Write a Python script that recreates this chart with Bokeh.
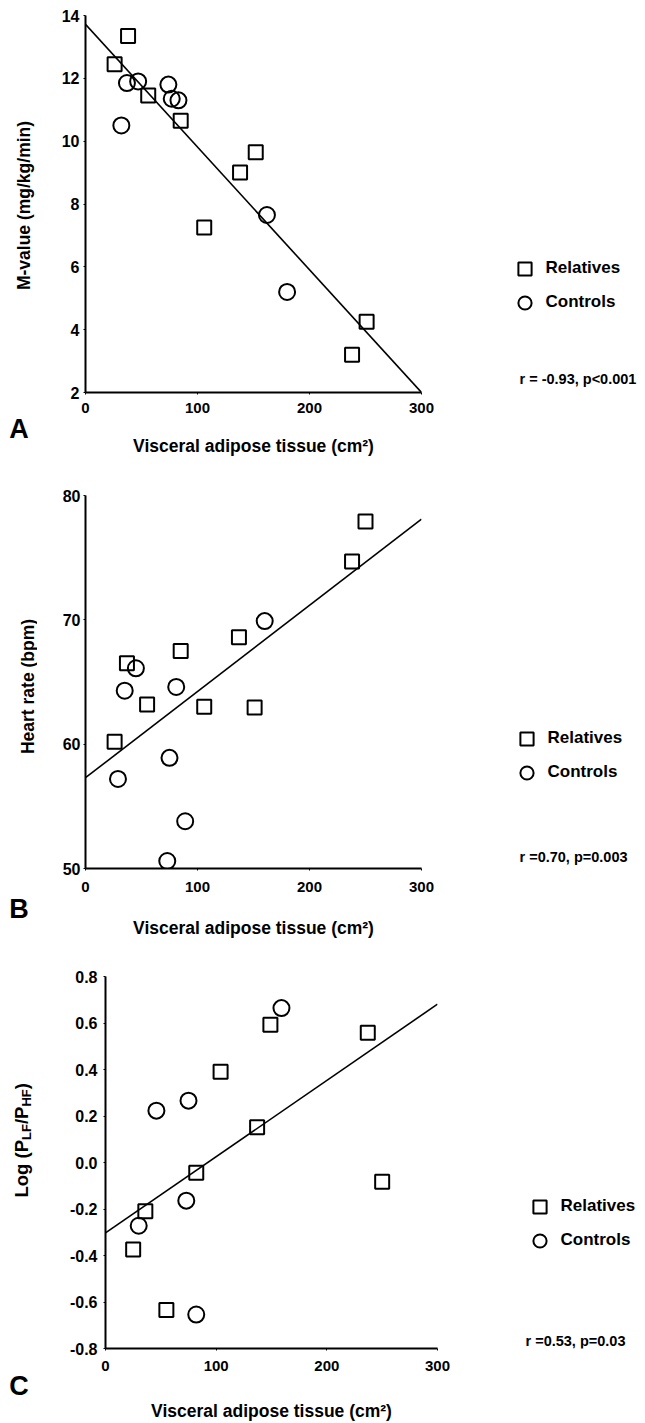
import math
from bokeh.plotting import figure
from bokeh.models import FixedTicker, NumeralTickFormatter, Label, Legend, LegendItem
from bokeh.layouts import column, row
from bokeh.embed import file_html
from bokeh.resources import INLINE

FONT = "Liberation Sans"

# ---------------- data ----------------
x_ticks = [0, 100, 200, 300]
series_names = ["Relatives", "Controls"]

# Panel A: M-value vs visceral adipose tissue
A_rel_x = [26, 38, 56, 85, 106, 138, 152, 238, 251]
A_rel_y = [12.45, 13.35, 11.45, 10.65, 7.25, 9.0, 9.65, 3.2, 4.25]
A_con_x = [32, 37, 47, 74, 77, 83, 162, 180]
A_con_y = [10.5, 11.85, 11.9, 11.8, 11.35, 11.3, 7.65, 5.2]
A_fit_x = [0, 300]
A_fit_y = [13.72, 2.0]
A_yticks = [2, 4, 6, 8, 10, 12, 14]
A_stat = "r = -0.93, p<0.001"

# Panel B: heart rate vs visceral adipose tissue
B_rel_x = [26, 37, 55, 85, 106, 137, 151, 238, 250]
B_rel_y = [60.2, 66.5, 63.2, 67.5, 63.0, 68.6, 62.95, 74.7, 77.9]
B_con_x = [29, 35, 45, 73, 75, 81, 89, 160]
B_con_y = [57.2, 64.3, 66.1, 50.6, 58.9, 64.6, 53.8, 69.9]
B_fit_x = [0, 300]
B_fit_y = [57.3, 78.1]
B_yticks = [50, 60, 70, 80]
B_stat = "r =0.70, p=0.003"

# Panel C: log(PLF/PHF) vs visceral adipose tissue
C_rel_x = [25, 36, 55, 82, 104, 137, 149, 237, 250]
C_rel_y = [-0.374, -0.21, -0.634, -0.044, 0.39, 0.152, 0.593, 0.558, -0.083]
C_con_x = [30, 46, 73, 75, 82, 159]
C_con_y = [-0.272, 0.223, -0.164, 0.266, -0.654, 0.664]
C_fit_x = [0, 300]
C_fit_y = [-0.303, 0.681]
C_yticks = [-0.8, -0.6, -0.4, -0.2, 0.0, 0.2, 0.4, 0.6, 0.8]
C_stat = "r =0.53, p=0.03"

X_LABEL = "Visceral adipose tissue (cm\u00b2)"
A_YLABEL = "M-value (mg/kg/min)"
B_YLABEL = "Heart rate (bpm)"
C_YLABEL_PARTS = ["Log (P", "LF", "/P", "HF", ")"]   # P_LF / P_HF with subscripts
NAN = float("nan")

STRIP_W = 37


def blank(width, height, letter=None, letter_std=0):
    p = figure(width=width, height=height, x_range=(0, 1), y_range=(0, 1),
               y_axis_type=None, output_backend="svg",
               toolbar_location=None, min_border=0)
    p.outline_line_color = None
    p.background_fill_color = "white"
    p.grid.visible = False
    ax = p.xaxis[0]
    ax.ticker = FixedTicker(ticks=[])
    ax.axis_line_color = None
    ax.major_tick_out = 0
    ax.major_tick_in = 0
    ax.minor_tick_out = 0
    ax.minor_tick_in = 0
    ax.major_label_text_color = None
    if letter is not None:
        ax.axis_label = letter
        ax.axis_label_text_font = FONT
        ax.axis_label_text_font_style = "bold"
        ax.axis_label_text_font_size = "27px"
        ax.axis_label_text_color = "black"
        ax.axis_label_standoff = letter_std
    return p


def txt(p, x, y, text, size, align="left", baseline="middle", angle=0.0):
    p.add_layout(Label(x=x, y=y, x_units="screen", y_units="screen", text=text,
                       text_font=FONT, text_font_style="bold",
                       text_font_size=f"{size}px", text_align=align,
                       text_baseline=baseline, angle=angle, text_color="black"))


def main_panel(width, h, mb, yr, yticks, rel, con, fit, geo):
    p = figure(width=width, height=h, x_range=(0, 300), y_range=yr,
               output_backend="svg", toolbar_location=None,
               min_border_left=mb[0], min_border_right=mb[1],
               min_border_top=mb[2], min_border_bottom=mb[3])
    p.outline_line_color = None
    p.grid.visible = False
    p.background_fill_color = "white"
    for ax in (p.xaxis[0], p.yaxis[0]):
        ax.axis_line_width = 2
        ax.axis_line_color = "black"
        ax.major_tick_out = 2
        ax.major_tick_in = 0
        ax.major_tick_line_width = 1
        ax.minor_tick_out = 0
        ax.minor_tick_in = 0
        ax.major_label_text_font = FONT
        ax.major_label_text_font_style = "bold"
        ax.major_label_text_color = "black"
        ax.axis_label_text_font = FONT
        ax.axis_label_text_font_style = "bold"
        ax.axis_label_text_font_size = "17.5px"
        ax.axis_label_text_color = "black"
    p.xaxis.major_label_text_font_size = "15px"
    p.yaxis.major_label_text_font_size = "16px"
    p.xaxis.ticker = FixedTicker(ticks=x_ticks)
    p.xaxis.axis_label = X_LABEL
    p.xaxis.major_label_standoff = geo["x_std"]
    p.xaxis.axis_label_standoff = geo["x_lab_std"]
    p.yaxis.ticker = FixedTicker(ticks=yticks)
    p.yaxis.major_label_standoff = geo["y_std"]
    if geo.get("fmt"):
        p.yaxis.formatter = NumeralTickFormatter(format=geo["fmt"])
    p.scatter(rel[0], rel[1], marker="square", size=14,
              fill_color=None, line_color="black", line_width=2)
    p.scatter(con[0], con[1], marker="circle", size=16,
              fill_color=None, line_color="black", line_width=2)
    p.line(fit[0], fit[1], line_color="black", line_width=1.6)
    return p


def side_panel(width, h, leg_loc, stat, stat_pos):
    p = blank(width, h)
    r_rel = p.scatter(x=[NAN], y=[NAN], marker="square", size=14,
                      fill_color=None, line_color="black", line_width=2)
    r_con = p.scatter(x=[NAN], y=[NAN], marker="circle", size=16,
                      fill_color=None, line_color="black", line_width=2)
    legend = Legend(items=[LegendItem(label=series_names[0], renderers=[r_rel]),
                           LegendItem(label=series_names[1], renderers=[r_con])],
                    location=leg_loc, glyph_width=33, glyph_height=33,
                    label_height=33, label_standoff=5, spacing=1, padding=0,
                    margin=0, border_line_color=None, background_fill_alpha=0,
                    label_text_font=FONT, label_text_font_style="bold",
                    label_text_font_size="17px", label_text_color="black")
    p.add_layout(legend)
    txt(p, stat_pos[0], stat_pos[1], stat, 14.5)
    return p


# Frames of the figures in one row share top/bottom; screen y below is
# measured from the frame bottom (= the x axis of the panel).

# ---------------- panel A (page y 0..462, x axis at 392) ----------------
hA, axA = 462, 392
sA = blank(STRIP_W, hA, "A", 21)
txt(sA, 23, axA - 205, A_YLABEL, 17.5, align="center", baseline="middle",
    angle=math.pi / 2)
mA = main_panel(441 - STRIP_W, hA, (85 - STRIP_W, 20, 15, hA - axA), (2, 14),
                A_yticks, (A_rel_x, A_rel_y), (A_con_x, A_con_y),
                (A_fit_x, A_fit_y), dict(x_std=8, x_lab_std=20, y_std=4))
rA = side_panel(645 - 441, hA, (66.5, axA - 318.5), A_stat, (78, axA - 378))

# ---------------- panel B (page y 462..945, x axis at 868) ----------------
hB, axB = 483, 868
sB = blank(STRIP_W, hB, "B", 25)
txt(sB, 27, axB - 686, B_YLABEL, 17.5, align="center", baseline="middle",
    angle=math.pi / 2)
mB = main_panel(441 - STRIP_W, hB, (85 - STRIP_W, 20, 33, 945 - axB), (50, 80),
                B_yticks, (B_rel_x, B_rel_y), (B_con_x, B_con_y),
                (B_fit_x, B_fit_y), dict(x_std=11, x_lab_std=23, y_std=3))
rB = side_panel(645 - 441, hB, (68.5, axB - 788.5), B_stat, (78, axB - 856))

# ---------------- panel C (page y 945..1423, x axis at 1351) ----------------
hC, axC = 478, 1351
sC = blank(STRIP_W, hC, "C", 22)
M, S = 18.5, 13
ems = [3.111, 1.222, 0.945, 1.333, 0.333]
ypos = axC - 1200
for part, em in zip(C_YLABEL_PARTS, ems):
    size = S if part in ("LF", "HF") else M
    xc = 26 if size == S else 21
    txt(sC, xc, ypos, part, size, align="left", baseline="middle",
        angle=math.pi / 2)
    ypos += em * size
mC = main_panel(455 - STRIP_W, hC, (105 - STRIP_W, 18, 31, 1423 - axC),
                (-0.8, 0.8), C_yticks, (C_rel_x, C_rel_y), (C_con_x, C_con_y),
                (C_fit_x, C_fit_y), dict(x_std=10, x_lab_std=27, y_std=6, fmt="0.0"))
rC = side_panel(645 - 455, hC, (67.5, axC - 1259.5), C_stat, (70, axC - 1343))

layout = column(row(sA, mA, rA, spacing=0), row(sB, mB, rB, spacing=0),
                row(sC, mC, rC, spacing=0), spacing=0)
open("out.html", "w").write(file_html(layout, INLINE))
